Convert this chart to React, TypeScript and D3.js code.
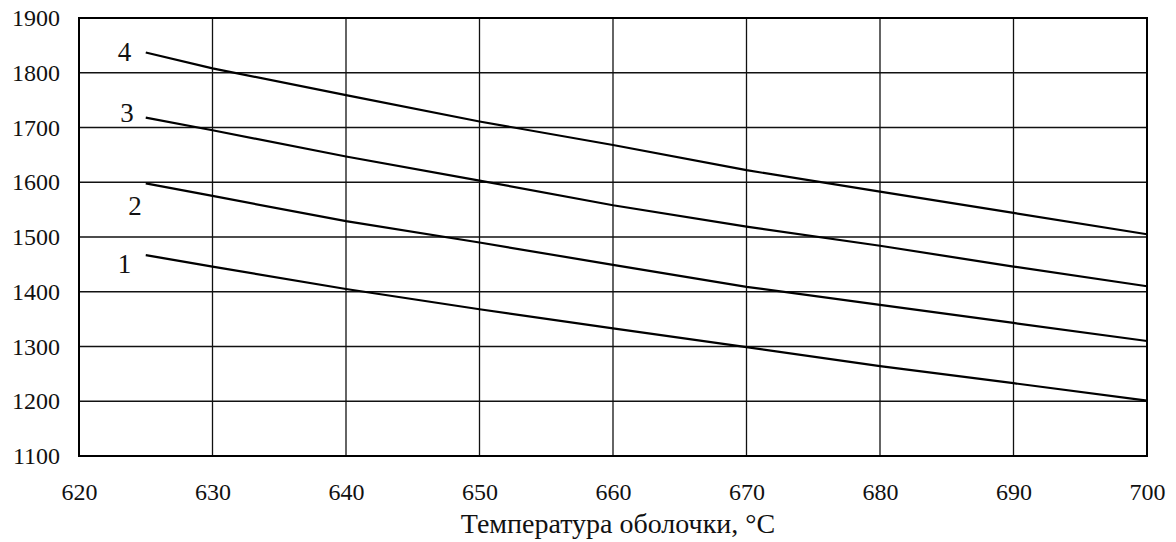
import React, { useEffect, useRef } from 'react';
import * as d3 from 'd3';

// Shell temperature, °C
const temps = [625, 630, 640, 650, 660, 670, 680, 690, 700];

// curves 1..4
const curve1 = [1467, 1446, 1405, 1368, 1333, 1299, 1264, 1233, 1201];
const curve2 = [1598, 1575, 1529, 1490, 1449, 1409, 1376, 1343, 1310];
const curve3 = [1718, 1695, 1647, 1603, 1558, 1519, 1484, 1446, 1410];
const curve4 = [1837, 1808, 1759, 1711, 1668, 1622, 1583, 1544, 1505];

const curveNames = ['1', '2', '3', '4'];
// where each curve number sits (data coords)
const labelX = [623.4, 624.2, 623.6, 623.4];
const labelY = [1452, 1557, 1728, 1838];

const xTicks = [620, 630, 640, 650, 660, 670, 680, 690, 700];
const yTicks = [1100, 1200, 1300, 1400, 1500, 1600, 1700, 1800, 1900];

const xTitle = 'Температура оболочки, °C';

const App: React.FC = () => {
  const svgRef = useRef<SVGSVGElement | null>(null);

  useEffect(() => {
    if (!svgRef.current) return;
    const svg = d3.select(svgRef.current);
    svg.selectAll('*').remove();

    const width = 1176;
    const height = 542;
    const margin = { top: 18, right: 29, bottom: 86, left: 79 };
    const font = '"Liberation Serif", "Times New Roman", serif';

    const x = d3
      .scaleLinear()
      .domain([620, 700])
      .range([margin.left, width - margin.right]);
    const y = d3
      .scaleLinear()
      .domain([1100, 1900])
      .range([height - margin.bottom, margin.top]);

    // grid
    const grid = svg.append('g').attr('stroke', '#111').attr('stroke-width', 1.3);
    grid
      .selectAll('line.v')
      .data(xTicks.slice(1, -1))
      .enter()
      .append('line')
      .attr('x1', (d) => x(d))
      .attr('x2', (d) => x(d))
      .attr('y1', y(1900))
      .attr('y2', y(1100));
    grid
      .selectAll('line.h')
      .data(yTicks.slice(1, -1))
      .enter()
      .append('line')
      .attr('x1', x(620))
      .attr('x2', x(700))
      .attr('y1', (d) => y(d))
      .attr('y2', (d) => y(d));

    // frame
    svg
      .append('rect')
      .attr('x', x(620))
      .attr('y', y(1900))
      .attr('width', x(700) - x(620))
      .attr('height', y(1100) - y(1900))
      .attr('fill', 'none')
      .attr('stroke', '#000')
      .attr('stroke-width', 2);

    // axes (labels only, no tick marks)
    const yAxis = d3.axisLeft(y).tickValues(yTicks).tickSize(0).tickPadding(19).tickFormat(d3.format('d'));
    const gy = svg.append('g').attr('transform', `translate(${margin.left},0)`).call(yAxis);
    gy.select('.domain').remove();
    gy.style('font-family', font).style('font-size', '24px');
    gy.selectAll('text').style('font-family', font).style('font-size', '24px').attr('fill', '#111');

    const xAxis = d3.axisBottom(x).tickValues(xTicks).tickSize(0).tickPadding(27).tickFormat(d3.format('d'));
    const gx = svg.append('g').attr('transform', `translate(0,${height - margin.bottom})`).call(xAxis);
    gx.select('.domain').remove();
    gx.style('font-family', font).style('font-size', '24px');
    gx.selectAll('text').style('font-family', font).style('font-size', '24px').attr('fill', '#111');

    // curves
    const series = [curve1, curve2, curve3, curve4];
    const line = d3
      .line<number>()
      .x((_, i) => x(temps[i]))
      .y((d) => y(d));
    svg
      .append('g')
      .selectAll('path')
      .data(series)
      .enter()
      .append('path')
      .attr('d', (d) => line(d))
      .attr('fill', 'none')
      .attr('stroke', '#000')
      .attr('stroke-width', 2.2);

    svg
      .append('g')
      .selectAll('text')
      .data(curveNames)
      .enter()
      .append('text')
      .attr('x', (_, i) => x(labelX[i]))
      .attr('y', (_, i) => y(labelY[i]))
      .attr('dy', '0.35em')
      .attr('text-anchor', 'middle')
      .style('font-family', font)
      .style('font-size', '27px')
      .attr('fill', '#111')
      .text((d) => d);

    svg
      .append('text')
      .attr('x', (x(620) + x(700)) / 2 + 5)
      .attr('y', 533)
      .attr('text-anchor', 'middle')
      .style('font-family', font)
      .style('font-size', '28px')
      .attr('fill', '#111')
      .text(xTitle);
  }, []);

  return (
    <svg
      ref={svgRef}
      width={1176}
      height={542}
      style={{ position: 'absolute', left: 0, top: 0, background: '#fff', display: 'block' }}
    />
  );
};

export default App;
